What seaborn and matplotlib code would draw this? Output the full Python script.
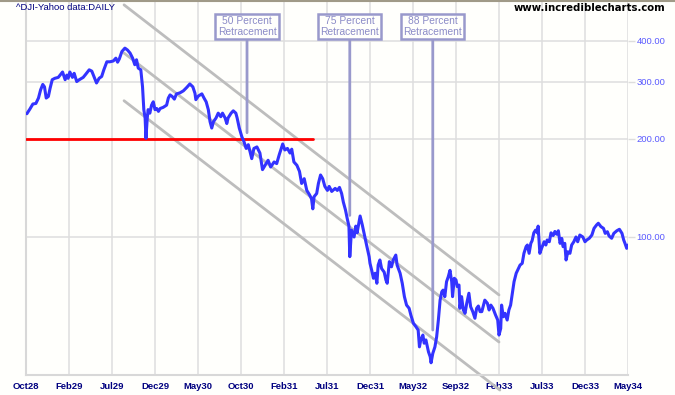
import matplotlib
matplotlib.use("Agg")
import matplotlib.pyplot as plt
import seaborn as sns
import pandas as pd
from matplotlib.ticker import FixedLocator, NullLocator, FixedFormatter
from matplotlib.lines import Line2D

# ---------------- data (trading-day index, DJIA close) ----------------
day = [2, 9, 16, 23, 29, 34, 39, 43, 47, 52, 56, 61, 67, 75, 81, 85, 91, 95, 98, 102,
       108, 112, 118, 124, 133, 139, 147, 153, 158, 164, 170, 176, 181, 188, 195, 203,
       209, 213, 217, 223, 230, 236, 242, 248, 253, 257, 261,
       267, 271, 274, 277, 279, 282, 284, 288, 292, 296, 300, 304, 308, 312, 319, 327,
       331, 335, 340, 345, 350, 358, 366, 374, 381, 388, 393, 395, 401, 409, 414, 419,
       424, 428, 432, 436, 442, 447, 453, 457, 463, 467, 470, 477, 482, 488, 491, 496,
       502, 507, 512, 517, 521, 525, 530, 537,
       544, 550, 556, 563, 569, 577, 583, 589, 597, 602, 608, 614, 618, 623, 630, 636,
       641, 647, 653, 659, 664, 667, 670, 676, 680, 685, 690, 695, 701, 705, 711, 719,
       724, 729, 734, 738, 743, 747, 751, 753, 757, 763, 767, 770, 777, 782, 788, 792,
       798,
       800, 804, 808, 812, 816, 819, 823, 827, 833, 837, 840, 845, 850, 854, 860, 863,
       870, 875, 880, 885, 891, 895, 901, 907, 912, 915, 918, 923, 926, 930, 936, 940,
       942, 946, 951, 955, 959, 963, 967, 970, 974, 978, 982, 986, 990, 992, 996, 1000,
       1003, 1007, 1009, 1013, 1017, 1021, 1025, 1030, 1034, 1039, 1044, 1048, 1052,
       1056, 1060, 1063, 1067, 1073, 1077, 1081, 1086, 1092, 1097, 1100,
       1104, 1106, 1110, 1114, 1119, 1123, 1127, 1132, 1135, 1140, 1145, 1149, 1154,
       1158, 1163, 1166, 1170, 1174, 1177, 1181, 1185, 1189, 1191, 1195, 1199, 1205,
       1209, 1212, 1217, 1221, 1226, 1230, 1234, 1238, 1242, 1246, 1249, 1253, 1256,
       1260, 1265, 1269, 1274, 1279, 1283, 1288, 1295, 1300, 1304, 1310, 1316, 1321,
       1327, 1331, 1337, 1343, 1347, 1352, 1356, 1362, 1367, 1374, 1380, 1386, 1390,
       1393, 1397, 1400]
close = [239, 247, 256, 257, 267, 283, 294, 289, 267, 270, 286, 304, 307, 309, 316, 321,
         304, 314, 307, 321, 309, 318, 300, 304, 309, 316, 326, 323, 311, 297, 307, 311,
         326, 345, 345, 347, 354, 344, 352, 371, 380, 375, 367, 354, 338, 350, 330,
         326, 289, 246, 232, 201, 232, 246, 240, 254, 260, 246, 248, 243, 248, 250, 254,
         267, 273, 270, 265, 275, 277, 281, 288, 295, 289, 276, 264, 271, 275, 267, 260,
         246, 226, 216, 226, 232, 240, 234, 240, 232, 223, 232, 240, 244, 240, 232, 216,
         203, 196, 187, 192, 183, 174, 187, 189,
         181, 161, 166, 172, 164, 170, 168, 179, 193, 185, 187, 181, 186, 170, 166, 159,
         146, 151, 139, 135, 131, 122, 133, 136, 146, 155, 151, 143, 139, 143, 138, 141,
         139, 142, 136, 128, 121, 114, 108, 87, 105, 100, 108, 103, 116, 109, 100, 94.5,
         87,
         83, 79, 74.7, 77.4, 72.1, 82, 85, 80, 78, 73.8, 72.1, 84, 81, 85, 88, 82,
         77.4, 72.1, 65.6, 61.8, 60.4, 57.6, 54.3, 53.0, 51.8, 46.0, 48.3, 50.0, 47.2,
         48.3, 44.4, 42.9,
         41.1, 43.9, 46.0, 49.4, 55.6, 64.0, 67.9, 68.7, 65.6, 72.9, 75.5, 79, 72.9,
         65.6, 74.7, 73.8,
         70.4, 71.2, 60.4, 65.6, 59.7, 58.3, 62.6, 67.2, 61.1, 59.0, 56.3, 60.4, 61.4,
         59.0, 59.0, 61.1, 64.0, 62.6, 59.7, 61.8, 60.4, 57.6, 55.6, 50.0,
         52.4, 61.8, 56.9, 58.3, 55.6, 59.7, 61.8, 68.7, 72.9, 77.4, 80, 82, 83,
         89.1, 93.4, 94.5, 89.1, 95.6, 97.4, 103, 105, 103, 108, 89.1, 92.3, 96.7,
         94.5, 97.9, 96.7, 103, 101, 104, 102, 104.5, 95.6, 99, 93.4, 95.6, 85,
         90.1, 89.1, 94.5, 96.7, 100, 96.7, 101.4, 100, 96.7, 97.9, 99.1, 101.4, 106.3,
         108.9, 110.2, 107.6, 106.3, 102.6, 103.8, 100.7, 99.1, 102.6, 104.5, 105.6, 102.6, 97.9,
         95.6, 92.3, 94.5]

tick_days = [0, 100, 200, 300, 400, 500, 600, 700, 800, 900, 1000, 1100, 1200, 1300, 1400]
tick_labels = ["Oct28", "Feb29", "Jul29", "Dec29", "May30", "Oct30", "Feb31", "Jul31",
               "Dec31", "May32", "Sep32", "Feb33", "Jul33", "Dec33", "May34"]
y_ticks = [100, 200, 300, 400]
y_labels = ["100.00", "200.00", "300.00", "400.00"]

support_level = 200
support_days = [0, 667]

channel_days = [228, 1100]
channel_upper = [516, 66.4]
channel_middle = [367, 47.6]
lower_days = [228, 1102]
channel_lower = [262, 33.9]

retr_labels = ["50 Percent\nRetracement", "75 Percent\nRetracement", "88 Percent\nRetracement"]
retr_days = [514, 753, 946]
retr_values = [209, 116.5, 51.8]

# ---------------- figure ----------------
BG = "#fffffc"
sns.set_theme(style="white")
plt.rcParams["font.family"] = ["Liberation Sans", "DejaVu Sans"]

fig = plt.figure(figsize=(6.75, 3.95), dpi=100, facecolor=BG)
ax = fig.add_axes([26 / 675, 1 - 375 / 395, 602 / 675, 375 / 395])
ax.set_facecolor(BG)

df = pd.DataFrame({"day": day, "close": close})

# grid
for d in tick_days:
    ax.axvline(d, color="#dedede", lw=1.1, zorder=0)
for v in y_ticks:
    ax.axhline(v, color="#dedede", lw=1.1, zorder=0)

# channel lines
ax.plot(channel_days, channel_upper, color="#bdbdbd", lw=2, zorder=2)
ax.plot(channel_days, channel_middle, color="#bdbdbd", lw=2, zorder=2)
ax.plot(lower_days, channel_lower, color="#bdbdbd", lw=2, zorder=2, clip_on=False)

# support line
ax.plot(support_days, [support_level, support_level], color="#ff0000", lw=2, zorder=3)

# price line
sns.lineplot(data=df, x="day", y="close", ax=ax, color="#3333ff", lw=2.2, zorder=4,
             estimator=None)

ax.set_yscale("log")
ax.set_xlim(0, 1400)
ax.set_ylim(37.7, 534)

# retracement annotations
for lab, d, v in zip(retr_labels, retr_days, retr_values):
    ax.annotate(lab, xy=(d, v), xycoords="data",
                xytext=(d, 0.929), textcoords=("data", "axes fraction"),
                ha="center", va="center", fontsize=7.4, color="#8c8cc8",
                linespacing=1.15,
                bbox=dict(boxstyle="square,pad=0.22", fc=BG, ec="#9999cc", lw=1.8),
                arrowprops=dict(arrowstyle="-", color="#9999cc", lw=2,
                                shrinkA=0, shrinkB=0),
                zorder=5)

# axes styling
ax.xaxis.set_major_locator(FixedLocator(tick_days))
ax.xaxis.set_major_formatter(FixedFormatter(tick_labels))
ax.yaxis.set_major_locator(FixedLocator(y_ticks))
ax.yaxis.set_major_formatter(FixedFormatter(y_labels))
ax.yaxis.set_minor_locator(NullLocator())
ax.yaxis.tick_right()
ax.tick_params(axis="x", length=3, width=1, color="#dddddd", pad=2, labelsize=6.8,
               labelcolor="#000080")
for t in ax.get_xticklabels():
    t.set_fontweight("bold")
ax.tick_params(axis="y", which="major", length=5, width=1, color="#dddddd", pad=1,
               labelsize=6.8, labelcolor="#5a5aff", right=True, left=False)
ax.set_xlabel("")
ax.set_ylabel("")
for s in ["top", "right"]:
    ax.spines[s].set_visible(False)
ax.spines["left"].set_color("#d8d8d8")
ax.spines["left"].set_linewidth(1.5)
ax.spines["bottom"].set_color("#d8d8d8")
ax.spines["bottom"].set_linewidth(1.5)

# header texts
fig.text(16 / 675, 1 - 7 / 395, "^DJI-Yahoo data:DAILY", ha="left", va="center",
         fontsize=6.8, color="#000080")
fig.text(665 / 675, 1 - 8 / 395, "www.incrediblecharts.com", ha="right", va="center",
         fontsize=7.3, color="#000000", fontweight="bold", family="DejaVu Sans")
fig.add_artist(Line2D([0, 1], [1 - 0.5 / 395, 1 - 0.5 / 395], transform=fig.transFigure,
                      color="#a09a88", lw=1.5))

fig.savefig("out.png", dpi=100, facecolor=BG)
